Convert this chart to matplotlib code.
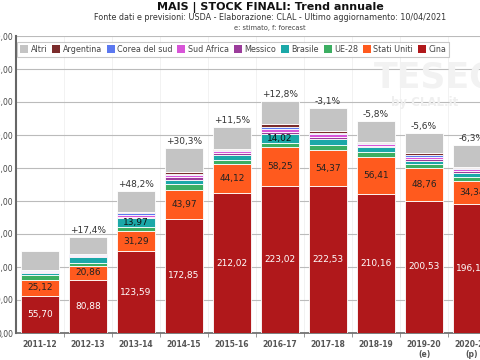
import numpy as np
import matplotlib
matplotlib.use('Agg')
from matplotlib import pyplot as plt
from matplotlib.patches import Patch

# data (mln t)
years = ['2011-12', '2012-13', '2013-14', '2014-15', '2015-16',
         '2016-17', '2017-18', '2018-19', '2019-20\n(e)', '2020-21\n(p)']
cina = [55.70, 80.88, 123.59, 172.85, 212.02, 223.02, 222.53, 210.16, 200.53, 196.18]
stati_uniti = [25.12, 20.86, 31.29, 43.97, 44.12, 58.25, 54.37, 56.41, 48.76, 34.34]
ue28 = [7.0, 5.0, 5.0, 9.0, 6.0, 6.0, 7.5, 7.5, 6.5, 6.0]
brasile = [3.0, 8.0, 13.97, 6.5, 7.5, 14.02, 9.0, 7.0, 5.0, 6.5]
messico = [1.5, 1.5, 2.5, 3.5, 3.0, 4.0, 4.0, 3.0, 3.0, 3.0]
sud_africa = [1.5, 1.5, 3.0, 3.5, 2.5, 4.5, 4.0, 2.5, 3.0, 2.5]
corea = [1.5, 1.5, 2.0, 2.0, 2.0, 2.5, 2.0, 1.5, 2.5, 2.0]
argentina = [0.5, 1.0, 1.5, 2.5, 1.5, 4.0, 2.0, 1.5, 3.5, 1.5]
altri = [27.7, 24.8, 32.0, 36.2, 33.0, 35.8, 35.8, 31.8, 30.6, 32.3]
pct_labels = ['', '+17,4%', '+48,2%', '+30,3%', '+11,5%', '+12,8%',
              '-3,1%', '-5,8%', '-5,6%', '-6,3%']

series = [
    ('Cina', cina, '#b0181b', 'white'),
    ('Stati Uniti', stati_uniti, '#ff5a1e', '#222222'),
    ('UE-28', ue28, '#3cae62', None),
    ('Brasile', brasile, '#1ba8a8', '#111111'),
    ('Messico', messico, '#9b3c9b', None),
    ('Sud Africa', sud_africa, '#d855d8', None),
    ('Corea del sud', corea, '#5b78f0', None),
    ('Argentina', argentina, '#7b2c2c', None),
    ('Altri', altri, '#c4c4c4', None),
]


def fmt(v):
    return '{:.2f}'.format(v).replace('.', ',')


fig = plt.figure(figsize=(4.8, 3.6), dpi=100)
ax = fig.add_axes((16 / 480, 27 / 360, 480 / 480, 297 / 360))

x = np.arange(len(years))
bottom = np.zeros(len(years))
for name, vals, color, tcolor in series:
    vals = np.array(vals)
    ax.bar(x, vals, width=0.79, bottom=bottom, color=color,
           edgecolor='white', linewidth=0.6, zorder=3)
    if tcolor is not None:
        for i, v in enumerate(vals):
            if v > 12:
                ax.text(x[i], bottom[i] + v / 2, fmt(v), ha='center',
                        va='center', fontsize=6.5, color=tcolor, zorder=4)
    bottom = bottom + vals

for i, lab in enumerate(pct_labels):
    if lab:
        ax.text(x[i], bottom[i] + 3, lab, ha='center', va='bottom',
                fontsize=6.5, color='#333333', zorder=4)

ax.set_xlim(-0.5, len(years) - 0.5)
ax.set_ylim(0, 450)
ax.set_yticks(np.arange(0, 451, 50))
ax.set_yticklabels([fmt(v) for v in np.arange(0, 451, 50)],
                   fontsize=5.5, color='#444444')
ax.set_xticks(x)
ax.set_xticklabels(years, fontsize=5.5, color='#555555', fontweight='bold')
ax.set_xticks(x[:-1] + 0.5, minor=True)
ax.tick_params(axis='x', which='major', length=0, pad=5)
ax.tick_params(axis='x', which='minor', length=3, color='#888888')
ax.tick_params(axis='y', length=0, pad=2)
ax.grid(axis='y', color='#bbbbbb', linewidth=0.8, zorder=0)
ax.grid(axis='x', which='minor', color='#f0f0f0', linewidth=0.6, zorder=0)
for s in ['top', 'right']:
    ax.spines[s].set_visible(False)
ax.spines['left'].set_color('#666666')
ax.spines['left'].set_linewidth(1.5)
ax.spines['bottom'].set_color('#666666')
ax.spines['bottom'].set_linewidth(1.2)

# watermark
fig.text(0.91, 0.785, 'TESEO', fontsize=25, fontweight='bold',
         color='#f2f2f2', ha='center', va='center', zorder=0)
fig.text(0.885, 0.715, 'by CLAL.it', fontsize=8.5, fontweight='bold',
         color='#efefef', ha='center', va='center', zorder=0)
ax.set_facecolor('none')

handles = [Patch(facecolor=c, edgecolor='none', label=n)
           for n, v, c, t in series[::-1]]
leg = ax.legend(handles=handles, loc='upper left', ncol=9, fontsize=5.8,
                bbox_to_anchor=(0.003, 0.98), frameon=True, fancybox=False,
                handlelength=1.0, handleheight=1.0, handletextpad=0.3,
                columnspacing=0.6, borderpad=0.35, borderaxespad=0)
leg.get_frame().set_edgecolor('#bbbbbb')
leg.get_frame().set_linewidth(0.8)
for t in leg.get_texts():
    t.set_color('#444444')

fig.text(0.563, 0.978, 'MAIS | STOCK FINALI: Trend annuale', ha='center',
         va='center', fontsize=8, fontweight='bold', color='#111111')
fig.text(0.563, 0.950, 'Fonte dati e previsioni: USDA - Elaborazione: CLAL - '
         'Ultimo aggiornamento: 10/04/2021', ha='center', va='center',
         fontsize=5.8, color='#333333')
fig.text(0.563, 0.922, 'e: stimato, f: forecast', ha='center', va='center',
         fontsize=4.8, color='#444444')

fig.savefig('out.png', dpi=100)
